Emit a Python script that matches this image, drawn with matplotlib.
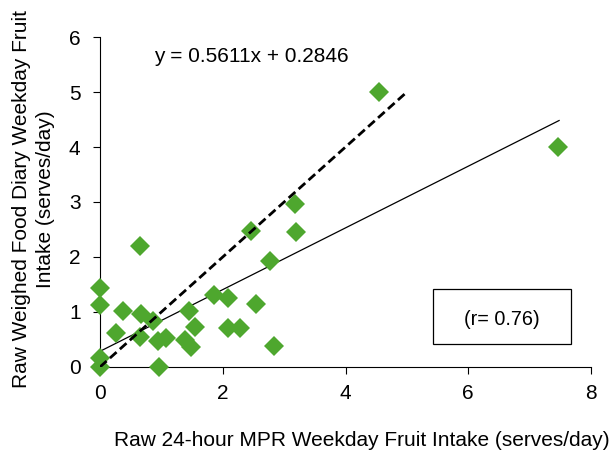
import numpy as np
import matplotlib.pyplot as plt
from matplotlib.patches import Rectangle

plt.rcParams["font.family"] = ["Liberation Sans", "DejaVu Sans"]

# --------------------------------------------------------------------------- #
#  Data                                               #
# --------------------------------------------------------------------------- #

mpr_24h = [0.00, 0.00, 0.00, 0.00, 0.26, 0.38, 0.65, 0.65, 0.66, 0.87,
           0.95, 0.96, 1.07, 1.39, 1.45, 1.49, 1.55, 1.85, 2.08, 2.09,
           2.28, 2.46, 2.54, 2.77, 2.84, 3.17, 3.20, 4.55, 7.47]
food_diary = [0.00, 0.16, 1.12, 1.44, 0.61, 1.02, 2.20, 0.55, 0.96, 0.84,
              0.48, 0.00, 0.52, 0.49, 1.02, 0.37, 0.72, 1.31, 1.26, 0.70,
              0.70, 2.48, 1.15, 1.93, 0.39, 2.96, 2.46, 5.00, 4.00]

SLOPE, INTERCEPT = 0.5611, 0.2846
FIT_X = [0.0, 7.48]
IDENTITY_X = [0.0, 5.0]
R_VALUE = 0.76

GREEN = "#4EA72E"

# --------------------------------------------------------------------------- #
#  Figure                                                                      #
# --------------------------------------------------------------------------- #

fig = plt.figure(figsize=(6.15, 4.57), dpi=100)
ax = fig.add_axes([0.1626, 0.197, 0.7984, 0.722])

fit_x = np.array(FIT_X)
ax.plot(fit_x, SLOPE * fit_x + INTERCEPT, color="black", lw=0.9, zorder=2)
ax.plot(IDENTITY_X, IDENTITY_X, color="black", lw=2, ls=(0, (3.2, 1.6)),
        zorder=4)
ax.plot(mpr_24h, food_diary, "D", color=GREEN, ms=10, mew=0,
        clip_on=False, zorder=3)

ax.set_xlim(0, 8)
ax.set_ylim(0, 6)
ax.set_xticks([0, 2, 4, 6, 8])
ax.set_yticks(range(7))
for s in ("top", "right"):
    ax.spines[s].set_visible(False)
ax.tick_params(labelsize=15, length=5, width=0.8)
ax.tick_params(axis="y", pad=9)
ax.tick_params(axis="x", pad=7)

ax.text(0.88, 5.65, f"y = {SLOPE}x + {INTERCEPT}", fontsize=15,
        va="center", ha="left")

ax.add_patch(Rectangle((5.42, 0.42), 2.25, 1.0, fill=False, lw=0.9,
                       edgecolor="black", clip_on=False))
ax.text(6.54, 0.86, f"(r= {R_VALUE})", fontsize=14.3, ha="center",
        va="center")

fig.text(0.589, 0.037, "Raw 24-hour MPR Weekday Fruit Intake (serves/day)",
         fontsize=15, ha="center", va="center")
fig.text(0.0545, 0.565, "Raw Weighed Food Diary Weekday Fruit\nIntake (serves/day)",
         fontsize=15, ha="center", va="center", rotation=90,
         multialignment="center", linespacing=1.3)

fig.savefig("out.png", dpi=100)
